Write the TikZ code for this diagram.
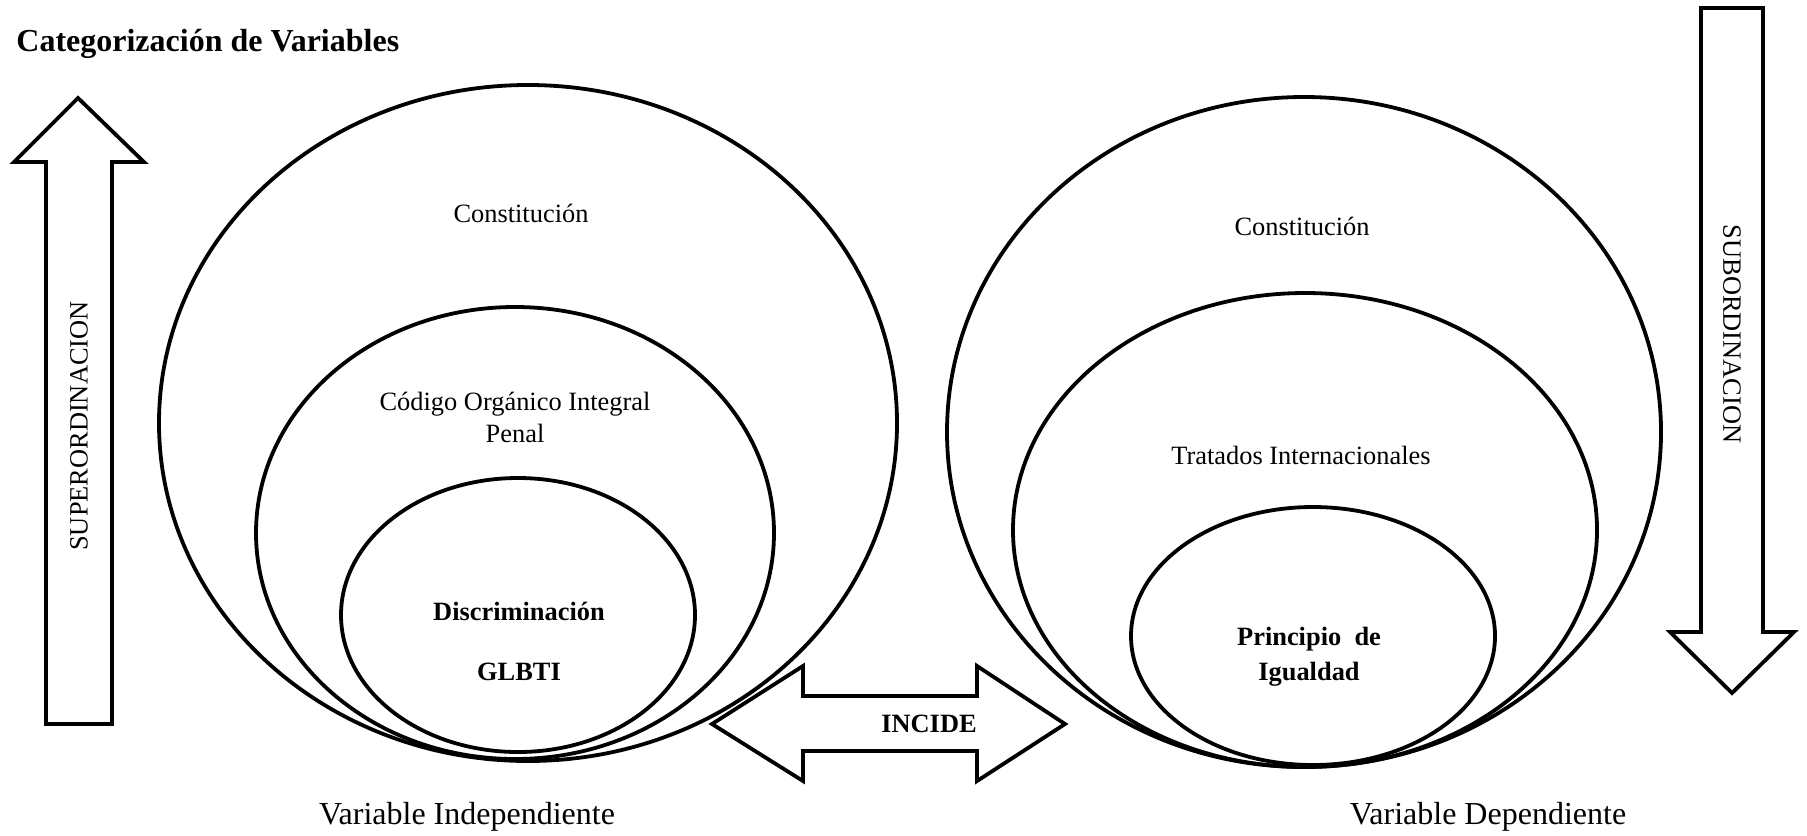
\documentclass[tikz,border=0pt]{standalone}
\usepackage{fontspec}
\setmainfont{Liberation Serif}
\begin{document}
\begin{tikzpicture}[x=0.5pt,y=-0.5pt,
  shape line/.style={draw=black, line width=1.9pt, line join=miter},
  lbl/.style={font=\fontsize{13.2}{16}\selectfont, align=center, inner sep=0pt},
  blbl/.style={font=\fontsize{13.2}{16}\selectfont\bfseries, align=center, inner sep=0pt},
  biglbl/.style={font=\fontsize{16}{19}\selectfont, inner sep=0pt}]
\useasboundingbox (0,0) rectangle (1807,835);

% title
\node[anchor=west, font=\fontsize{16}{19}\selectfont\bfseries, inner sep=0pt] (title) at (16,44) {Categorización de Variables};

% left ellipses
\coordinate (LO) at (528,423);
\coordinate (LM) at (515,533);
\coordinate (LI) at (518,615);
\draw[shape line] (LO) ellipse [x radius=369, y radius=338];
\draw[shape line] (LM) ellipse [x radius=259, y radius=226];
\draw[shape line] (LI) ellipse [x radius=177, y radius=137];
\node[lbl] (lconst) at (521,213) {Constitución};
\node[lbl] (lcoip) at (515,417) {Código Orgánico Integral\\Penal};
\node[blbl] (ldisc) at (519,611) {Discriminación};
\node[blbl] (lglbti) at (519,672) {GLBTI};

% right ellipses
\coordinate (RO) at (1304,432);
\coordinate (RM) at (1305,530);
\coordinate (RI) at (1313,636);
\draw[shape line] (RO) ellipse [x radius=357, y radius=335];
\draw[shape line] (RM) ellipse [x radius=292, y radius=237];
\draw[shape line] (RI) ellipse [x radius=182, y radius=129];
\node[lbl] (rconst) at (1302,226) {Constitución};
\node[lbl] (rtrat) at (1301,455) {Tratados Internacionales};
\node[blbl] (rprin) at (1309,639) {Principio\ \ de};
\node[blbl] (rigu) at (1309,674) {Igualdad};

% up arrow
\draw[shape line] (46,724) -- (46,162) -- (14,162) -- (78,98) -- (144,162) -- (112,162) -- (112,724) -- cycle;
\node[lbl, rotate=90] (super) at (79,426) {SUPERORDINACION};

% down arrow
\draw[shape line] (1701,8) -- (1763,8) -- (1763,632) -- (1794,632) -- (1732,693) -- (1670,632) -- (1701,632) -- cycle;
\node[lbl, rotate=-90] (sub) at (1732,334) {SUBORDINACION};

% double arrow
\draw[shape line] (712,724) -- (803,666) -- (803,696) -- (977,696) -- (977,666) -- (1065,724) -- (977,781) -- (977,751) -- (803,751) -- (803,781) -- cycle;
\node[blbl] (incide) at (929,724) {INCIDE};

% bottom labels
\node[biglbl] (vi) at (467,817) {Variable Independiente};
\node[biglbl] (vd) at (1488,817) {Variable Dependiente};
\end{tikzpicture}
\end{document}
